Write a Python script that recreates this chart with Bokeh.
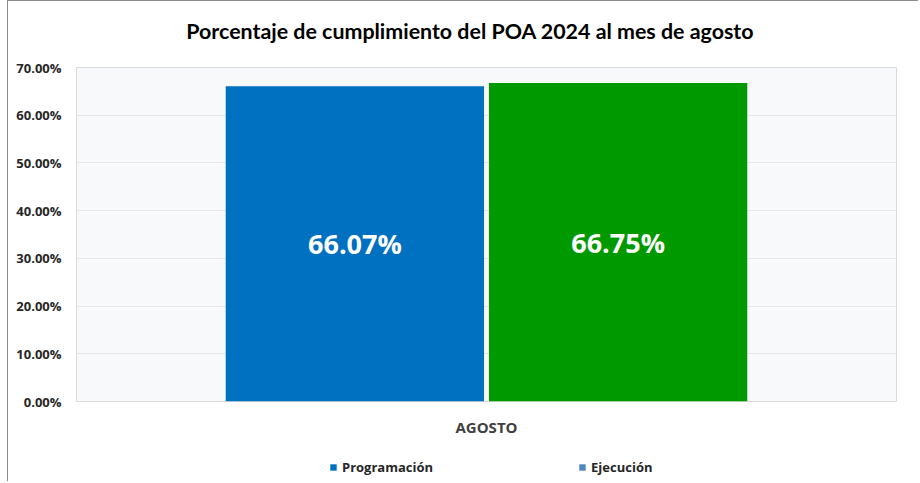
from bokeh.plotting import figure
from bokeh.layouts import column
from bokeh.models import (FactorRange, ColumnDataSource, FixedTicker, PrintfTickFormatter,
                          Legend, LegendItem)
from bokeh.transform import dodge
from bokeh.core.properties import value
from bokeh.embed import file_html
from bokeh.resources import INLINE

# ---- data ----
categories = ["AGOSTO"]
programacion = [66.07]
ejecucion = [66.75]
y_ticks = [0, 10, 20, 30, 40, 50, 60, 70]
title_text = "Porcentaje de cumplimiento del POA 2024 al mes de agosto"
series_names = ["Programación", "Ejecución"]

BLUE = "#0070C0"
GREEN = "#009900"
LEGEND2 = "#4F86C0"

W = 910

# ---- title strip ----
p0 = figure(width=W, height=54, x_range=(0, W), y_range=(0, 54), x_axis_type=None, y_axis_type=None,
            output_backend="svg", toolbar_location=None, min_border=0)
p0.outline_line_color = None
p0.text(x=[437], y=[25], text=[title_text], text_font=value("Lato"), text_font_style="bold",
        text_font_size="21.4px", text_color="black", text_align="center", text_baseline="middle")

# ---- main chart ----
src_p = ColumnDataSource(dict(cat=categories, val=programacion, mid=[v / 2 for v in programacion],
                              lab=[f"{v:.2f}%" for v in programacion]))
src_e = ColumnDataSource(dict(cat=categories, val=ejecucion, mid=[v / 2 for v in ejecucion],
                              lab=[f"{v:.2f}%" for v in ejecucion]))

p = figure(x_range=FactorRange(*categories, range_padding=0), y_range=(0, 70),
           frame_width=820, frame_height=334, output_backend="svg", toolbar_location=None,
           min_border_left=68, min_border_right=22, min_border_top=12, min_border_bottom=40)

p.background_fill_color = "#F7F9FB"
p.border_fill_color = "white"
p.outline_line_color = "#DADADA"
p.ygrid.grid_line_color = "#E6E6E6"
p.xgrid.grid_line_color = None

off = 0.1605
bw = 0.315
p.vbar(x=dodge("cat", -off, range=p.x_range), top="val", width=bw, source=src_p,
       fill_color=BLUE, line_color=None)
p.vbar(x=dodge("cat", off, range=p.x_range), top="val", width=bw, source=src_e,
       fill_color=GREEN, line_color=None)

for s, d in ((src_p, -off), (src_e, off)):
    p.text(x=dodge("cat", d, range=p.x_range), y="mid", text="lab", source=s,
           text_color="white", text_font=value("Open Sans"), text_font_style="bold",
           text_font_size="27px", text_align="center", text_baseline="middle")

p.yaxis.ticker = FixedTicker(ticks=y_ticks)
p.yaxis.formatter = PrintfTickFormatter(format="%.2f%%")
p.yaxis.axis_line_color = None
p.yaxis.major_tick_line_color = None
p.yaxis.minor_tick_line_color = None
p.yaxis.major_tick_out = 0
p.yaxis.major_label_standoff = 15
p.yaxis.major_label_text_font = "Open Sans"
p.yaxis.major_label_text_font_style = "bold"
p.yaxis.major_label_text_font_size = "13px"
p.yaxis.major_label_text_color = "#262626"

p.xaxis.axis_line_color = None
p.xaxis.major_tick_line_color = None
p.xaxis.major_tick_out = 0
p.xaxis.major_label_standoff = 15
p.xaxis.major_label_text_font = "Open Sans"
p.xaxis.major_label_text_font_style = "bold"
p.xaxis.major_label_text_font_size = "15px"
p.xaxis.major_label_text_color = "#404040"

# ---- legend strip ----
p2 = figure(width=W, height=40, x_range=(0, W), y_range=(0, 40), x_axis_type=None, y_axis_type=None,
            output_backend="svg", toolbar_location=None, min_border=0)
p2.outline_line_color = None
lr1 = p2.vbar(x=[0], top=[0], width=1, fill_color=BLUE, line_color=None)
lr2 = p2.vbar(x=[0], top=[0], width=1, fill_color=LEGEND2, line_color=None)
legend = Legend(items=[LegendItem(label=series_names[0], renderers=[lr1]),
                       LegendItem(label=series_names[1], renderers=[lr2])],
                orientation="horizontal", location=(253, 5),
                glyph_width=8, glyph_height=8, label_standoff=5, spacing=145,
                padding=0, margin=0, border_line_color=None, background_fill_alpha=0,
                label_text_font="Open Sans", label_text_font_style="bold",
                label_text_font_size="13px", label_text_color="#262626")
p2.add_layout(legend, "center")

layout = column(p0, p, p2, spacing=0)
layout.styles = {"margin-left": "7px", "border-top": "1px solid #8c8c8c", "border-left": "1px solid #8c8c8c"}

open("out.html", "w").write(file_html(layout, INLINE))
